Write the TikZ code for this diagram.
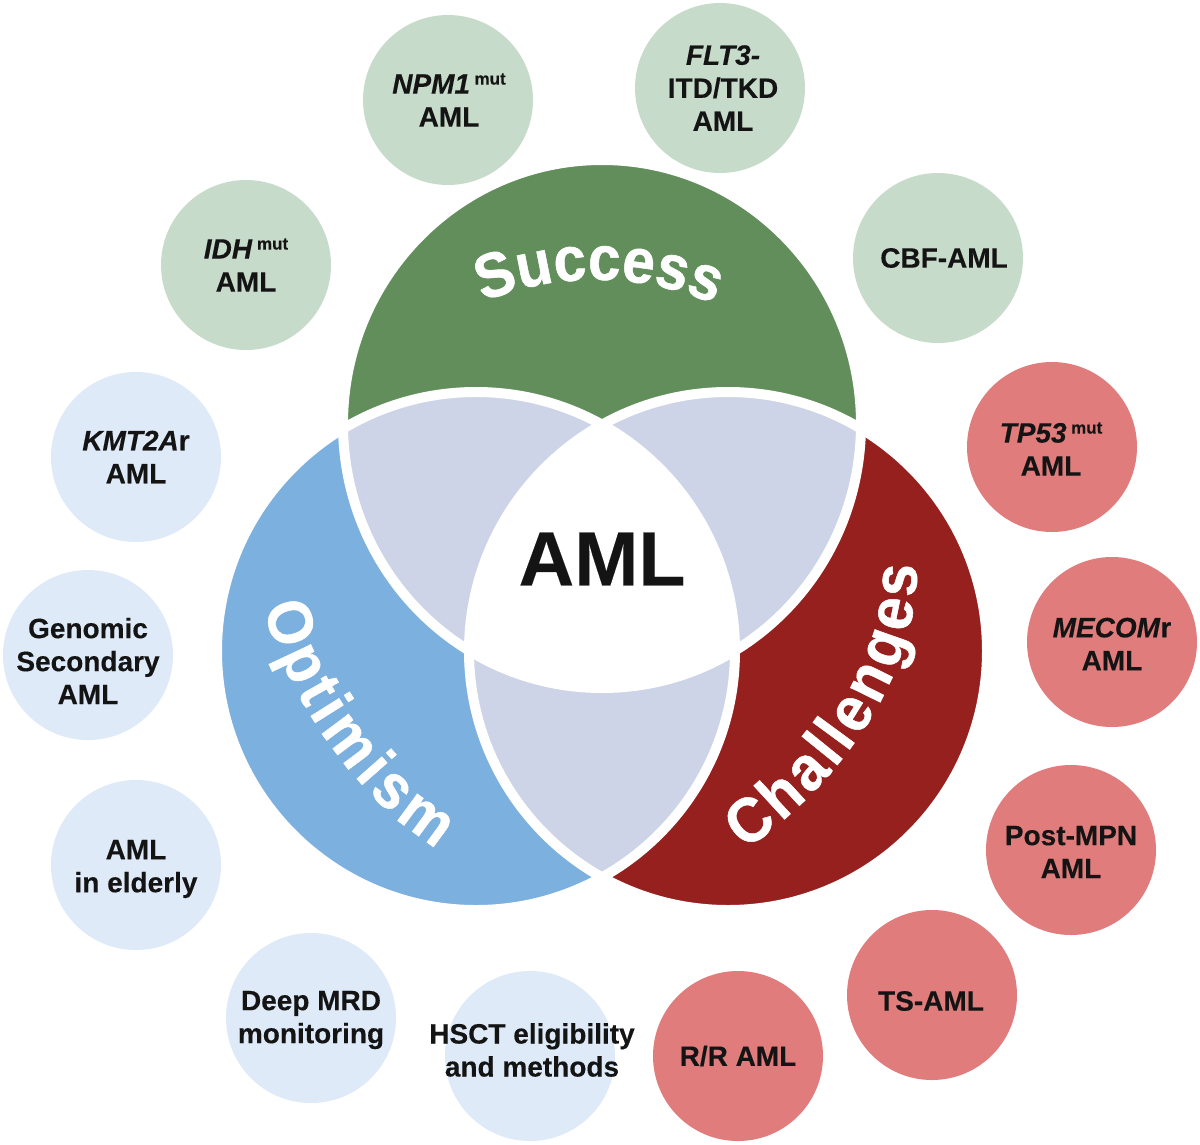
\documentclass[tikz,border=0pt]{standalone}
\usepackage{fontspec}
\setmainfont[BoldFeatures={FakeBold=0.25},BoldItalicFeatures={FakeBold=0.25}]{Liberation Sans}
\newfontfamily\titlefont[BoldFeatures={FakeBold=0.8,FakeStretch=0.93}]{Liberation Sans}
\usetikzlibrary{decorations.text}
\definecolor{cGreen}{HTML}{618E5A}
\definecolor{cBlue}{HTML}{7CB0DF}
\definecolor{cRed}{HTML}{95201D}
\definecolor{cPale}{HTML}{CDD4E8}
\definecolor{satGreen}{HTML}{C7DBCA}
\definecolor{satBlue}{HTML}{DEEAF8}
\definecolor{satRed}{HTML}{E07C7C}
\definecolor{cInk}{HTML}{141414}
\newcommand{\bigarc}{\titlefont\fontsize{63}{63}\selectfont\bfseries\color{white}}
\newcommand{\supmut}{\hspace{4.5pt}\raisebox{9pt}{\fontsize{17}{17}\selectfont mut}}
\tikzset{
  satnode/.style={circle,minimum size=170pt,inner sep=0pt},
  satg/.style={satnode,fill=satGreen},
  satb/.style={satnode,fill=satBlue},
  satr/.style={satnode,fill=satRed},
  sattext/.style={inner sep=0pt,align=center,text=cInk,font=\fontsize{28}{33}\selectfont\bfseries},
  ring/.style={draw=white,line width=10pt},
  curvedtitle/.style={decorate,decoration={text along path,text align={fit to path},text={|\bigarc|#1}}}
}
\newcommand{\discS}{(602,424) circle[x radius=259pt,y radius=264pt]}
\newcommand{\discO}{(476,651) circle[radius=259pt]}
\newcommand{\discC}{(728,651) circle[radius=259pt]}
% style, name, x, y, text dx, text dy, text
\newcommand{\satellite}[7]{%
  \node[#1] (#2) at (#3,#4) {};
  \node[sattext] (#2-label) at (#3+#5,#4+#6) {#7};}
\begin{document}
\begin{tikzpicture}[x=1pt,y=-1pt]
\useasboundingbox (0,0) rectangle (1200,1144);
% discs
\fill[cGreen] \discS;
\fill[cBlue] \discO;
\fill[cRed] \discC;
% overlaps
\begin{scope}\clip \discS; \fill[cPale] \discO; \fill[cPale] \discC; \end{scope}
\begin{scope}\clip \discO; \fill[cPale] \discC; \end{scope}
% bands
\draw[ring] \discS;
\draw[ring] \discO;
\draw[ring] \discC;
% centre
\begin{scope}\clip \discS; \clip \discO; \fill[white] \discC; \end{scope}
\node[font=\fontsize{77}{77}\selectfont\bfseries,text=cInk,inner sep=0pt] (aml) at (602,559) {AML};
% curved titles
\path[curvedtitle=Success]
  (483,302) .. controls (555,272) and (640,272) .. (714,304);
\path[curvedtitle=Optimism]
  (264,607) .. controls (282,690) and (358,802) .. (437,848);
\path[curvedtitle=Challenges]
  (745,850) .. controls (845,780) and (918,672) .. (917,565);
% satellites
\satellite{satg}{npm}{448}{100}{1}{0}{\textit{NPM1}\supmut\\AML}
\satellite{satg}{flt}{720}{88}{3}{0}{\textit{FLT3-}\\ITD/TKD\\AML}
\satellite{satg}{cbf}{938}{258}{6}{0}{CBF-AML}
\satellite{satg}{idh}{246}{265}{0}{0}{\textit{IDH}\supmut\\AML}
\satellite{satb}{kmt}{136}{457}{0}{0}{\textit{KMT2A}r\\AML}
\satellite{satb}{gen}{88}{655}{0}{6}{Genomic\\Secondary\\AML}
\satellite{satb}{eld}{136}{865}{0}{4}{AML\\in elderly}
\satellite{satb}{mrd}{311}{1018}{0}{2}{Deep MRD\\monitoring}
\satellite{satb}{hsct}{530}{1056}{2}{-6}{HSCT eligibility\\and methods}
\satellite{satr}{rr}{738}{1056}{0}{0}{R/R AML}
\satellite{satr}{ts}{932}{995}{-1}{6}{TS-AML}
\satellite{satr}{mpn}{1071}{850}{0}{2}{Post-MPN\\AML}
\satellite{satr}{mec}{1112}{642}{0}{2}{\textit{MECOM}r\\AML}
\satellite{satr}{tp}{1052}{447}{-1}{2}{\textit{TP53}\supmut\\AML}
\end{tikzpicture}
\end{document}
